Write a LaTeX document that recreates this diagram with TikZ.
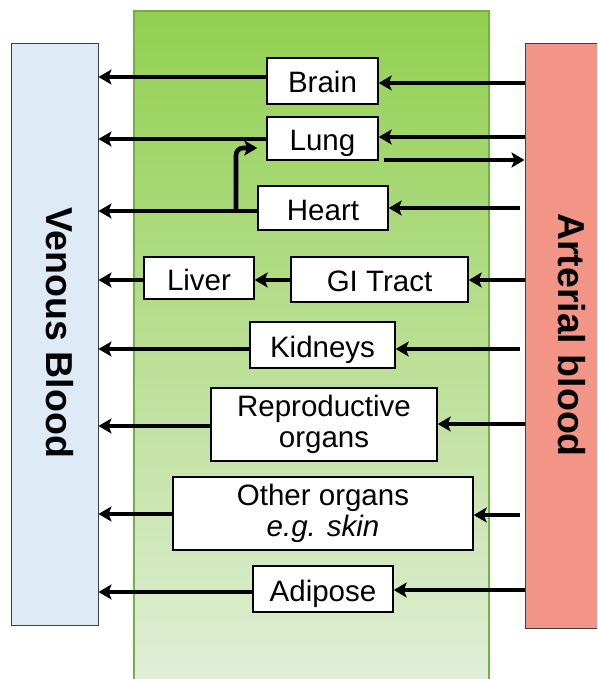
\documentclass[tikz,border=0pt]{standalone}
\usepackage{fontspec}
\setmainfont{Liberation Sans}
\usetikzlibrary{arrows.meta,calc}
\definecolor{venousfill}{HTML}{DEEAF6}
\definecolor{arterialfill}{HTML}{F29486}
\definecolor{greentop}{HTML}{92D050}
\definecolor{greenbot}{HTML}{E2EFDA}
\definecolor{greenedge}{HTML}{74B04A}
\tikzset{
  organ/.style={draw=black, line width=1.4pt, fill=white, inner sep=0pt, align=center,
    font=\fontsize{29.5}{31}\selectfont},
  organone/.style={organ, text height=24pt, text depth=0pt},
  arr/.style={line width=4pt, -{Stealth[length=13pt,width=15pt,inset=3pt]}},
  bloodbox/.style={draw=black!75, line width=1pt, inner sep=0pt},
  bloodtext/.style={font=\fontsize{37.5}{40}\selectfont\bfseries, rotate=-90, inner sep=0pt}
}
\begin{document}
\begin{tikzpicture}[x=1pt,y=-1pt]
\useasboundingbox (0,0) rectangle (597,679);
\clip (0,0) rectangle (597,679);
% central green region
\shade[top color=greentop, bottom color=greenbot] (134,11) rectangle (489,700);
\draw[greenedge, line width=2pt] (134,700) -- (134,11) -- (489,11) -- (489,700);
% blood boxes
\node[bloodbox, fill=venousfill, minimum width=87pt, minimum height=581pt] (venous) at (54.5,334.5) {};
\node[bloodtext] (venoustext) at (60,333) {Venous Blood};
\node[bloodbox, fill=arterialfill, minimum width=90pt, minimum height=584pt] (arterial) at (570,336) {};
\node[bloodtext] (arterialtext) at (572,335) {Arterial blood};
% organs
\node[organone, minimum width=111pt, minimum height=46pt] (brain) at (322.5,81) {Brain};
\node[organone, minimum width=111pt, minimum height=43pt] (lung) at (322.5,138.5) {Lung};
\node[organone, minimum width=130pt, minimum height=44pt] (heart) at (323,208) {Heart};
\node[organone, minimum width=110pt, minimum height=42pt] (liver) at (199,278) {Liver};
\node[organone, minimum width=177pt, minimum height=45pt] (gi) at (379.5,279.5) {GI Tract};
\node[organone, minimum width=145pt, minimum height=46pt] (kidneys) at (322.5,345) {Kidneys};
\node[organ, minimum width=226pt, minimum height=73pt] (repro) at (324,424.5) {Reproductive\\organs};
\node[organ, minimum width=300pt, minimum height=73pt] (other) at (323,513.5) {Other organs\\\itshape e.g. skin};
\node[organone, minimum width=140pt, minimum height=46pt] (adipose) at (323,589) {Adipose};
% outflow to venous blood
\draw[arr] (brain.west |- 0,77) -- (venous.east |- 0,77);
\draw[arr] (lung.west |- 0,139) -- (venous.east |- 0,139);
\draw[arr] (heart.west |- 0,211) -- (venous.east |- 0,211);
\draw[arr] (liver.west |- 0,280) -- (venous.east |- 0,280);
\draw[arr] (gi.west |- 0,280) -- (liver.east |- 0,280);
\draw[arr] (kidneys.west |- 0,349) -- (venous.east |- 0,349);
\draw[arr] (repro.west |- 0,426) -- (venous.east |- 0,426);
\draw[arr] (other.west |- 0,514) -- (venous.east |- 0,514);
\draw[arr] (adipose.west |- 0,592) -- (venous.east |- 0,592);
% heart to lung hook
\coordinate (hookstart) at (236,211);
\draw[arr, line width=4.6pt, rounded corners=7pt, shorten >=9pt] (hookstart) -- (236,148) -- (lung.west |- 0,148);
% inflow from arterial blood
\draw[arr] (arterial.west |- 0,83) -- (brain.east |- 0,83);
\draw[arr] (arterial.west |- 0,137) -- (lung.east |- 0,137);
\draw[arr] ([xshift=5pt]lung.east |- 0,160) -- (arterial.west |- 0,160);
\draw[arr] ($(arterial.west |- 0,208)+(-5,0)$) -- (heart.east |- 0,208);
\draw[arr] (arterial.west |- 0,280) -- (gi.east |- 0,280);
\draw[arr] ($(arterial.west |- 0,349)+(-5,0)$) -- (kidneys.east |- 0,349);
\draw[arr] (arterial.west |- 0,424) -- (repro.east |- 0,424);
\draw[arr] ($(arterial.west |- 0,515)+(-5,0)$) -- (other.east |- 0,515);
\draw[arr] (arterial.west |- 0,590) -- (adipose.east |- 0,590);
\end{tikzpicture}
\end{document}
